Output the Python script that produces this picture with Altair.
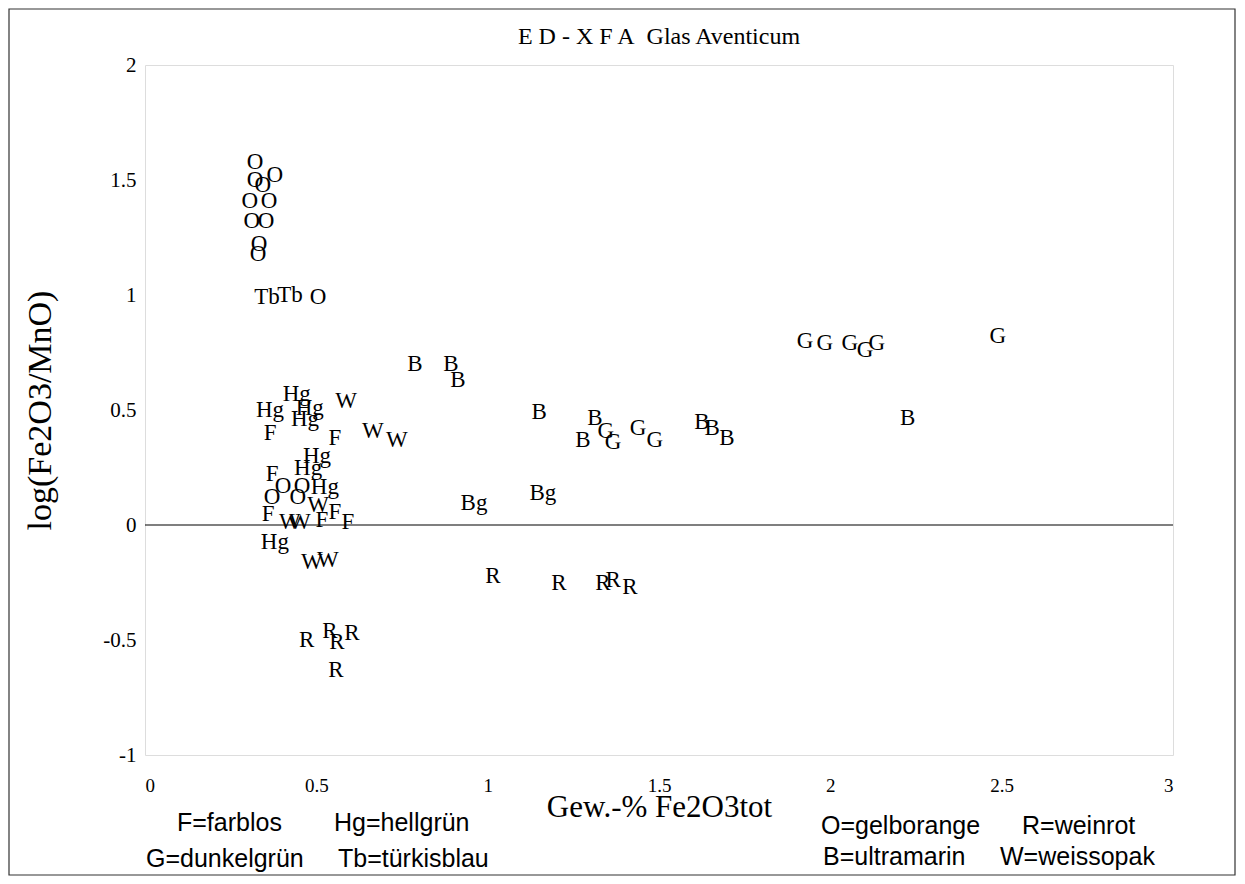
import altair as alt
import pandas as pd

# ---- data ----
x_O = [0.321, 0.379, 0.321, 0.344, 0.306, 0.362, 0.312, 0.353, 0.333, 0.330, 0.505, 0.403, 0.458, 0.371, 0.446]
y_O = [1.58, 1.52, 1.50, 1.48, 1.41, 1.41, 1.32, 1.32, 1.22, 1.18, 0.99, 0.17, 0.17, 0.12, 0.12]
x_Tb = [0.356, 0.423]
y_Tb = [0.99, 1.00]
x_Hg = [0.443, 0.365, 0.481, 0.467, 0.502, 0.476, 0.525, 0.379]
y_Hg = [0.57, 0.50, 0.51, 0.46, 0.30, 0.25, 0.165, -0.074]
x_F = [0.365, 0.554, 0.371, 0.359, 0.516, 0.554, 0.592]
y_F = [0.40, 0.38, 0.22, 0.05, 0.02, 0.057, 0.013]
x_W = [0.587, 0.665, 0.735, 0.505, 0.423, 0.452, 0.487, 0.534]
y_W = [0.54, 0.41, 0.37, 0.087, 0.013, 0.013, -0.16, -0.15]
x_R = [0.472, 0.540, 0.604, 0.560, 0.557, 1.015, 1.208, 1.336, 1.366, 1.415]
y_R = [-0.50, -0.46, -0.47, -0.51, -0.63, -0.22, -0.25, -0.25, -0.24, -0.27]
x_B = [0.788, 0.893, 0.913, 1.150, 1.313, 1.278, 1.625, 1.655, 1.698, 2.226]
y_B = [0.70, 0.70, 0.63, 0.49, 0.465, 0.37, 0.45, 0.42, 0.38, 0.465]
x_Bg = [0.960, 1.161]
y_Bg = [0.096, 0.139]
x_G = [1.345, 1.366, 1.439, 1.488, 1.926, 1.984, 2.057, 2.101, 2.136, 2.489]
y_G = [0.41, 0.36, 0.42, 0.37, 0.80, 0.79, 0.79, 0.76, 0.79, 0.82]

groups = {
    "O": (x_O, y_O), "Tb": (x_Tb, y_Tb), "Hg": (x_Hg, y_Hg), "F": (x_F, y_F),
    "W": (x_W, y_W), "R": (x_R, y_R), "B": (x_B, y_B), "Bg": (x_Bg, y_Bg), "G": (x_G, y_G),
}

x_ticks = [0, 0.5, 1, 1.5, 2, 2.5, 3]
y_ticks = [-1, -0.5, 0, 0.5, 1, 1.5, 2]

title_text = "E D - X F A\u2002Glas Aventicum"
legend_texts = ["F=farblos", "Hg=hellgrün", "G=dunkelgrün", "Tb=türkisblau",
                "O=gelborange", "R=weinrot", "B=ultramarin", "W=weissopak"]
# layout positions (relative to the plot origin), not data
legend_pos = [(32, 758), (189, 758), (1, 794), (193, 794),
              (676, 761), (877, 761), (678, 792), (855, 792)]

rows = []
for lab, (xs, ys) in groups.items():
    for xv, yv in zip(xs, ys):
        rows.append({"code": lab, "fe": xv, "logratio": yv})
df = pd.DataFrame(rows)

SERIF = "Liberation Serif"
SANS = "Liberation Sans"

xscale = alt.Scale(domain=[0, 3], nice=False, zero=False)
yscale = alt.Scale(domain=[-1, 2], nice=False, zero=False)

points = alt.Chart(df).mark_text(
    font=SERIF, fontSize=23, color="black", baseline="middle", align="center"
).encode(
    x=alt.X("fe:Q", scale=xscale, axis=alt.Axis(
        values=x_ticks, labelExpr="'' + datum.value", ticks=False, grid=False, domain=False,
        labelFont=SERIF, labelFontSize=19, labelColor="black", labelPadding=21,
        title="Gew.-%  Fe2O3tot", titleFont=SERIF, titleFontSize=31, titleFontWeight="normal",
        titleColor="black", titleX=514, titleY=52, titleBaseline="middle", titleAlign="center")),
    y=alt.Y("logratio:Q", scale=yscale, axis=alt.Axis(
        values=y_ticks, labelExpr="'' + datum.value", ticks=False, grid=False, domain=False,
        labelFont=SERIF, labelFontSize=21, labelColor="black", labelPadding=9,
        title="log(Fe2O3/MnO)", titleFont=SERIF, titleFontSize=34, titleFontWeight="normal",
        titleColor="black", titleX=-105, titleY=345, titleAngle=270,
        titleBaseline="middle", titleAlign="center")),
    text="code:N",
)

zero_line = alt.Chart(pd.DataFrame({"z": [0]})).mark_rule(color="black", strokeWidth=1.2).encode(
    y=alt.Y("z:Q", scale=yscale)
)

title = alt.Chart(pd.DataFrame({"t": [title_text]})).mark_text(
    font=SERIF, fontSize=24, color="black", align="center", baseline="middle"
).encode(text="t:N", x=alt.value(514), y=alt.value(-28))

layers = [zero_line, points, title]

for txt, (px, py) in zip(legend_texts, legend_pos):
    layers.append(
        alt.Chart(pd.DataFrame({"t": [txt]})).mark_text(
            font=SANS, fontSize=25, color="black", align="left", baseline="middle"
        ).encode(text="t:N", x=alt.value(px), y=alt.value(py))
    )

border = alt.Chart(pd.DataFrame({"b": [1]})).mark_rect(
    fill=None, stroke="#333333", strokeWidth=1.2
).encode(x=alt.value(-136), x2=alt.value(1090), y=alt.value(-56), y2=alt.value(810))
layers.append(border)

chart = alt.layer(*layers).properties(
    width=1028, height=690,
    autosize=alt.AutoSizeParams(type="none"),
    padding={"left": 137, "top": 57, "right": 64, "bottom": 121},
).configure_view(stroke="black", strokeWidth=1.5).configure(background="white")

chart.save("out.html", embed_options={"renderer": "svg", "actions": False})
